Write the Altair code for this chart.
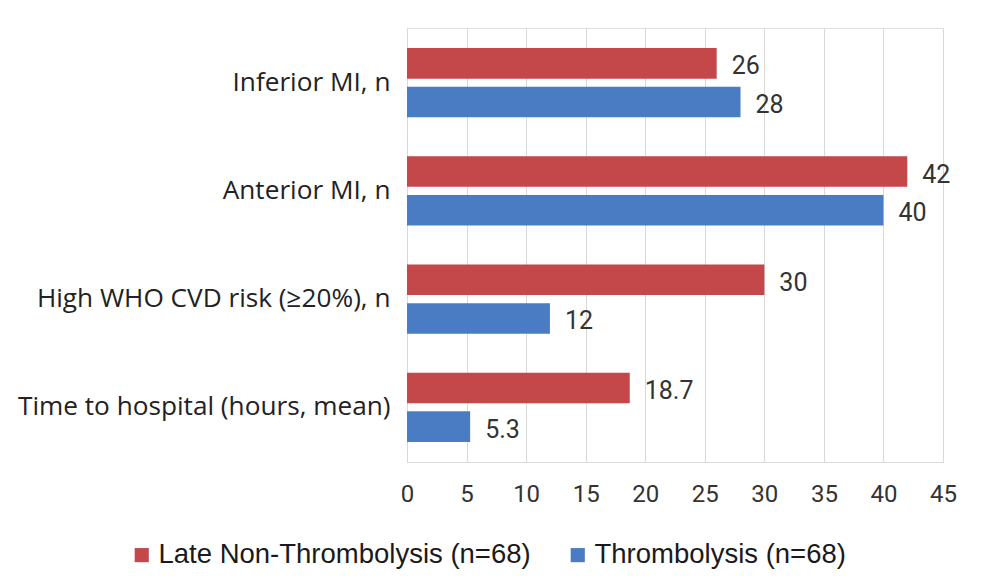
import altair as alt
import pandas as pd

categories = ["Inferior MI, n", "Anterior MI, n", "High WHO CVD risk (≥20%), n", "Time to hospital (hours, mean)"]
series = ["Late Non-Thrombolysis (n=68)", "Thrombolysis (n=68)"]
late_values = [26, 42, 30, 18.7]
thromb_values = [28, 40, 12, 5.3]
x_ticks = [0, 5, 10, 15, 20, 25, 30, 35, 40, 45]
colors = ["#c4474a", "#4a7cc4"]

rows = []
for c, v in zip(categories, late_values):
    rows.append({"category": c, "series": series[0], "value": v})
for c, v in zip(categories, thromb_values):
    rows.append({"category": c, "series": series[1], "value": v})
df = pd.DataFrame(rows)

y_enc = alt.Y("category:N", sort=categories, title=None,
              scale=alt.Scale(paddingInner=0.36, paddingOuter=0.186),
              axis=alt.Axis(labelFont="Open Sans", labelFontSize=26.2, labelColor="#222222",
                            labelPadding=17, ticks=False, domain=False, grid=False,
                            labelLimit=400))
yoff_enc = alt.YOffset("series:N", sort=series, scale=alt.Scale(paddingInner=0.21, paddingOuter=0))
x_enc = alt.X("value:Q", title=None,
              scale=alt.Scale(domain=[0, 45], nice=False),
              axis=alt.Axis(values=x_ticks, labelFont="Roboto", labelFontSize=24, labelColor="#333333",
                            labelPadding=20, labelFlush=False, ticks=False, domain=False, grid=True,
                            gridColor="#d9d9d9", gridWidth=1))

bars = alt.Chart(df).mark_bar(opacity=1).encode(
    y=y_enc,
    yOffset=yoff_enc,
    x=x_enc,
    color=alt.Color("series:N", sort=series,
                    scale=alt.Scale(domain=series, range=colors),
                    legend=alt.Legend(title=None, orient="none", direction="horizontal",
                                      legendX=-279, legendY=513,
                                      symbolType="square", symbolSize=200, symbolStrokeWidth=0,
                                      labelFont="Liberation Sans", labelFontSize=27.5,
                                      labelColor="#1a1a1a", labelOffset=3, columnPadding=33,
                                      labelLimit=500)),
)

labels = alt.Chart(df).mark_text(align="left", baseline="middle", dx=15, dy=3,
                                 font="Roboto", fontSize=25, color="#333333").encode(
    y=alt.Y("category:N", sort=categories),
    yOffset=alt.YOffset("series:N", sort=series),
    x=alt.X("value:Q"),
    text=alt.Text("value:Q"),
)

chart = alt.layer(bars, labels).properties(
    width=536, height=434,
    autosize=alt.AutoSizeParams(type="none"),
    padding={"left": 407, "top": 28, "right": 43, "bottom": 122},
).configure_view(stroke=None).configure(background="white")

chart.save("out.html", embed_options={"renderer": "svg", "actions": False})
